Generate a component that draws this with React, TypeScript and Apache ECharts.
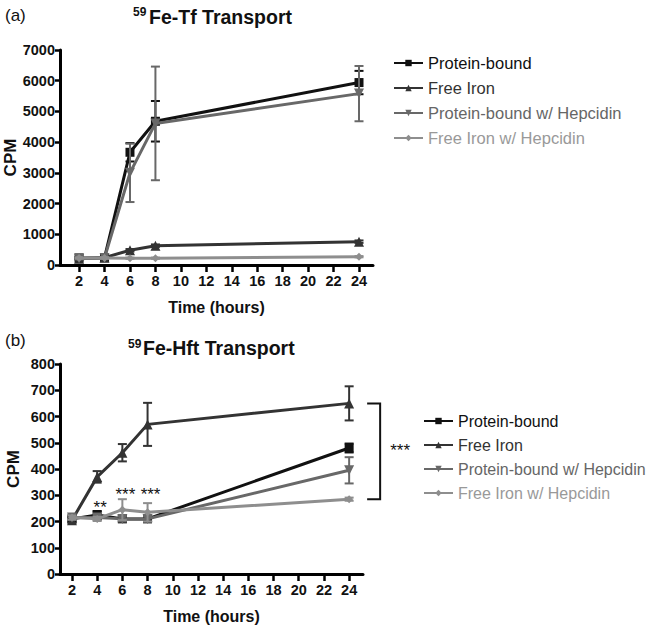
import React, { useEffect, useRef } from "react";
import * as echarts from "echarts";

// ---------- data ----------
const times = [2, 4, 6, 8, 24];
const xTickValues = [2, 4, 6, 8, 10, 12, 14, 16, 18, 20, 22, 24];
const seriesNames = [
  "Protein-bound",
  "Free Iron",
  "Protein-bound w/ Hepcidin",
  "Free Iron w/ Hepcidin",
];

// (a) 59Fe-Tf transport
const tfProteinBound = [230, 240, 3670, 4680, 5940];
const tfProteinBoundErr = [30, 30, 300, 660, 380];
const tfFreeIron = [200, 240, 480, 630, 760];
const tfFreeIronErr = [20, 30, 40, 40, 40];
const tfProteinBoundHep = [210, 230, 3000, 4610, 5580];
const tfProteinBoundHepErr = [30, 30, 950, 1850, 900];
const tfFreeIronHep = [230, 230, 220, 220, 270];
const tfFreeIronHepErr = [20, 20, 20, 20, 20];

// (b) 59Fe-Hft transport
const hftProteinBound = [210, 225, 210, 210, 480];
const hftProteinBoundErr = [10, 15, 10, 10, 17];
const hftFreeIron = [205, 370, 462, 570, 650];
const hftFreeIronErr = [10, 22, 33, 82, 65];
const hftProteinBoundHep = [215, 215, 210, 210, 395];
const hftProteinBoundHepErr = [8, 10, 10, 10, 50];
const hftFreeIronHep = [215, 210, 245, 235, 285];
const hftFreeIronHepErr = [8, 8, 40, 35, 6];

// significance stars: [time, CPM, label]
const hftStars: [number, number, string][] = [
  [4, 255, "**"],
  [6, 301, "***"],
  [8, 301, "***"],
];
// bracket at 24 h from Free Iron to Free Iron w/ Hepcidin
const hftBracket: [number, number, number, string][] = [[24, 650, 285, "***"]];

// ---------- styles ----------
const FONT = "'Liberation Sans', Arial, Helvetica, sans-serif";
const colors = ["#111111", "#333333", "#686868", "#8e8e8e"];
const textColors = ["#111111", "#333333", "#666666", "#999999"];
const symbols = ["rect", "triangle", "triangle", "diamond"];
const symbolRot = [0, 0, 180, 0];
const symbolSizes = [9, 10, 10, 8];

function lineSeries(grid: number, idx: number, vals: number[]) {
  return {
    name: seriesNames[idx],
    type: "line",
    xAxisIndex: grid,
    yAxisIndex: grid,
    data: times.map((t, i) => [t, vals[i]]),
    symbol: symbols[idx],
    symbolRotate: symbolRot[idx],
    symbolSize: symbolSizes[idx],
    showSymbol: true,
    itemStyle: { color: colors[idx] },
    lineStyle: { color: colors[idx], width: 3 },
    z: 3 + idx,
    silent: true,
  };
}

function errSeries(grid: number, idx: number, vals: number[], errs: number[]) {
  const color = colors[idx];
  return {
    type: "custom",
    xAxisIndex: grid,
    yAxisIndex: grid,
    data: times.map((t, i) => [t, vals[i] - errs[i], vals[i] + errs[i]]),
    silent: true,
    z: 3 + idx,
    renderItem: (_p: any, api: any) => {
      const lo = api.coord([api.value(0), api.value(1)]);
      const hi = api.coord([api.value(0), api.value(2)]);
      const w = 4.5;
      const style = { stroke: color, lineWidth: 2, fill: "none" };
      return {
        type: "group",
        children: [
          { type: "line", shape: { x1: hi[0], y1: hi[1], x2: lo[0], y2: lo[1] }, style },
          { type: "line", shape: { x1: hi[0] - w, y1: hi[1], x2: hi[0] + w, y2: hi[1] }, style },
          { type: "line", shape: { x1: lo[0] - w, y1: lo[1], x2: lo[0] + w, y2: lo[1] }, style },
        ],
      };
    },
  };
}

function xAxis(grid: number, min: number) {
  return {
    type: "value",
    gridIndex: grid,
    min,
    max: 25.1,
    name: "Time (hours)",
    nameLocation: "middle",
    nameGap: 34,
    nameTextStyle: { fontSize: 16, fontWeight: "bold", color: "#111", fontFamily: FONT },
    axisLine: { show: true, onZero: false, lineStyle: { color: "#000", width: 3 } },
    axisTick: { show: true, length: 7, customValues: xTickValues, lineStyle: { color: "#000", width: 2.5 } },
    axisLabel: { customValues: xTickValues, fontSize: 14.5, fontWeight: "bold", color: "#111", margin: 8, fontFamily: FONT, formatter: (v: number) => String(v) },
    splitLine: { show: false },
  };
}

function yAxis(grid: number, max: number, interval: number) {
  return {
    type: "value",
    gridIndex: grid,
    min: 0,
    max,
    interval,
    name: "CPM",
    nameLocation: "middle",
    nameRotate: 90,
    nameGap: 38,
    nameTextStyle: { fontSize: 17, fontWeight: "bold", color: "#111", fontFamily: FONT },
    axisLine: { show: true, lineStyle: { color: "#000", width: 3 } },
    axisTick: { show: true, length: 5, lineStyle: { color: "#000", width: 2.5 } },
    axisLabel: { fontSize: 14.5, fontWeight: "bold", color: "#111", margin: 5, fontFamily: FONT, formatter: (v: number) => String(v) },
    splitLine: { show: false },
  };
}

function legend(top: number, left: number, gap: number, fontSize: number) {
  return {
    orient: "vertical",
    left,
    top,
    padding: 0,
    itemWidth: 29,
    itemHeight: 8,
    itemGap: gap,
    selectedMode: false,
    data: seriesNames.map((n, i) => ({ name: n, textStyle: { color: textColors[i] } })),
    textStyle: { fontSize, fontFamily: FONT, lineHeight: 19, padding: [0, 0, 0, 0] },
  };
}

export default function App() {
  const ref = useRef<HTMLDivElement>(null);
  useEffect(() => {
    if (!ref.current) return;
    const chart = echarts.init(ref.current, null, { renderer: "svg" });
    const option: any = {
      animation: false,
      backgroundColor: "#ffffff",
      textStyle: { fontFamily: FONT },
      grid: [
        { left: 60, top: 50, width: 313, height: 215, outerBoundsMode: "none", containLabel: false },
        { left: 60, top: 364, width: 303, height: 210, outerBoundsMode: "none", containLabel: false },
      ],
      xAxis: [xAxis(0, 0.5), xAxis(1, 1.05)],
      yAxis: [yAxis(0, 7000, 1000), yAxis(1, 800, 100)],
      legend: [legend(53.5, 393, 6, 16.5), legend(411.5, 423, 5, 16)],
      graphic: [
        { type: "text", left: 5, top: 7, style: { text: "(a)", fontSize: 17, fill: "#111", fontFamily: FONT } },
        { type: "text", x: 133, y: 12, style: { text: "59", fontSize: 12, fontWeight: "bold", fill: "#111", fontFamily: FONT, verticalAlign: "middle" } },
        { type: "text", x: 149, y: 17, style: { text: "Fe-Tf Transport", fontSize: 19.5, fontWeight: "bold", fill: "#111", fontFamily: FONT, verticalAlign: "middle" } },
        { type: "text", left: 5, top: 332, style: { text: "(b)", fontSize: 17, fill: "#111", fontFamily: FONT } },
        { type: "text", x: 128, y: 343.5, style: { text: "59", fontSize: 12, fontWeight: "bold", fill: "#111", fontFamily: FONT, verticalAlign: "middle" } },
        { type: "text", x: 143, y: 347.5, style: { text: "Fe-Hft Transport", fontSize: 19.5, fontWeight: "bold", fill: "#111", fontFamily: FONT, verticalAlign: "middle" } },
      ],
      series: [
        errSeries(0, 0, tfProteinBound, tfProteinBoundErr),
        errSeries(0, 1, tfFreeIron, tfFreeIronErr),
        errSeries(0, 2, tfProteinBoundHep, tfProteinBoundHepErr),
        errSeries(0, 3, tfFreeIronHep, tfFreeIronHepErr),
        lineSeries(0, 0, tfProteinBound),
        lineSeries(0, 1, tfFreeIron),
        lineSeries(0, 2, tfProteinBoundHep),
        lineSeries(0, 3, tfFreeIronHep),
        errSeries(1, 0, hftProteinBound, hftProteinBoundErr),
        errSeries(1, 1, hftFreeIron, hftFreeIronErr),
        errSeries(1, 2, hftProteinBoundHep, hftProteinBoundHepErr),
        errSeries(1, 3, hftFreeIronHep, hftFreeIronHepErr),
        lineSeries(1, 0, hftProteinBound),
        lineSeries(1, 1, hftFreeIron),
        lineSeries(1, 2, hftProteinBoundHep),
        lineSeries(1, 3, hftFreeIronHep),
        {
          type: "custom",
          xAxisIndex: 1,
          yAxisIndex: 1,
          data: hftStars,
          silent: true,
          z: 10,
          renderItem: (_p: any, api: any) => {
            const c = api.coord([api.value(0), api.value(1)]);
            return {
              type: "text",
              x: c[0] + 3,
              y: c[1],
              style: { text: hftStars[_p.dataIndex][2], fontSize: 17, fill: "#111", fontFamily: FONT, align: "center", verticalAlign: "middle" },
            };
          },
        },
        {
          type: "custom",
          xAxisIndex: 1,
          yAxisIndex: 1,
          data: hftBracket.map((b) => [b[0], b[1], b[2]]),
          silent: true,
          clip: false,
          z: 10,
          renderItem: (_p: any, api: any) => {
            const top = api.coord([api.value(0), api.value(1)]);
            const bot = api.coord([api.value(0), api.value(2)]);
            const bx = top[0] + 31;
            const style = { stroke: "#111", lineWidth: 2, fill: "none" };
            return {
              type: "group",
              children: [
                { type: "polyline", shape: { points: [[bx - 13, top[1]], [bx, top[1]], [bx, bot[1]], [bx - 13, bot[1]]] }, style },
                {
                  type: "text",
                  x: bx + 20,
                  y: (top[1] + bot[1]) / 2 - 1,
                  style: { text: hftBracket[_p.dataIndex][3], fontSize: 17, fill: "#111", fontFamily: FONT, align: "center", verticalAlign: "middle" },
                },
              ],
            };
          },
        },
      ],
    };
    chart.setOption(option);
    return () => chart.dispose();
  }, []);
  return (
    <div
      ref={ref}
      style={{ position: "absolute", left: 0, top: 0, width: 652, height: 627, background: "#fff" }}
    />
  );
}
